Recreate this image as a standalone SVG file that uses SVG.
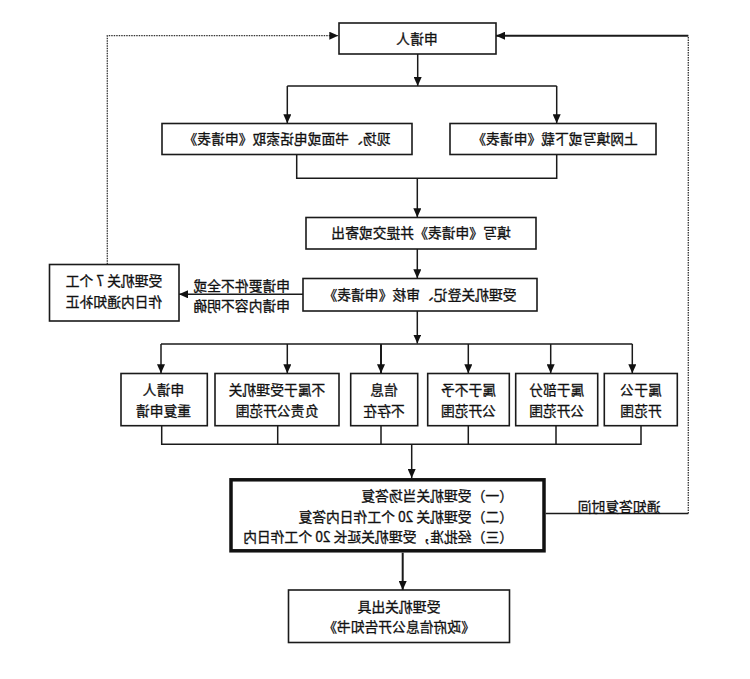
<svg xmlns="http://www.w3.org/2000/svg" width="750" height="679" viewBox="0 0 750 679">
<style>
.box{fill:#fff;stroke:#1a1a1a;stroke-width:1.6}
.thick{fill:#fff;stroke:#111;stroke-width:3.5}
.ln{fill:none;stroke:#1a1a1a;stroke-width:1.5}
.dot{fill:none;stroke:#333;stroke-width:1.3;stroke-dasharray:1.5 1}
text{font-family:"Noto Sans CJK SC","Noto Sans",sans-serif;font-size:13.8px;fill:#111;stroke:#111;stroke-width:0.3;text-anchor:middle}
text.l{text-anchor:start}
</style>
<defs>
<marker id="ah" markerUnits="userSpaceOnUse" viewBox="0 0 9 8" markerWidth="9" markerHeight="8" refX="9" refY="4" orient="auto">
<path d="M0,0 L9,4 L0,8 z" fill="#111"/>
</marker>
</defs>
<rect width="750" height="679" fill="#fff"/>
<g id="connectors">
<path class="ln" d="M417.7,54 V86" marker-end="url(#ah)"/>
<path class="ln" d="M287.3,86 H556.7"/>
<path class="ln" d="M287.3,86 V123.3" marker-end="url(#ah)"/>
<path class="ln" d="M556.7,86 V123.3" marker-end="url(#ah)"/>
<path class="ln" d="M296.7,154.3 V178.3 H556.7 V154.3"/>
<path class="ln" d="M417.3,178.3 V217.3" marker-end="url(#ah)"/>
<path class="ln" d="M417.3,249 V278.3" marker-end="url(#ah)"/>
<path class="ln" d="M303,294.3 H179" marker-end="url(#ah)"/>
<path class="ln" d="M417.3,311 V343.5" marker-end="url(#ah)"/>
<path class="ln" d="M161,344 H632.3"/>
<path class="ln" d="M161,344 V373.3" marker-end="url(#ah)"/>
<path class="ln" d="M287.3,344 V373.3" marker-end="url(#ah)"/>
<path class="ln" d="M381,344 V373.3" marker-end="url(#ah)" style="stroke-width:2"/>
<path class="ln" d="M468.3,344 V373.3" marker-end="url(#ah)"/>
<path class="ln" d="M550.7,344 V373.3" marker-end="url(#ah)"/>
<path class="ln" d="M632.3,344 V373.3" marker-end="url(#ah)"/>
<path class="ln" d="M161.7,425.7 V444.3 H641 V425.7 M277.7,425.7 V444.3 M381,425.7 V444.3 M468.3,425.7 V444.3 M556,425.7 V444.3"/>
<path class="ln" d="M411.7,444.3 V478" marker-end="url(#ah)"/>
<path class="ln" d="M402.7,552.7 V590" marker-end="url(#ah)" style="stroke-width:2"/>
<path class="ln" d="M545.7,513.5 H688.3"/>
<path class="dot" d="M688.3,513.5 V35.7"/>
<path class="ln" d="M688.3,35.7 H496" marker-end="url(#ah)" style="stroke-width:2"/>
<path class="dot" d="M107.3,264.3 V35.7 H338.3" marker-end="url(#ah)"/>
<text transform="scale(-1 1)" x="-241.7" y="291">申请要件不全或</text>
<text transform="scale(-1 1)" x="-241.7" y="311">申请内容不明确</text>
<text transform="scale(-1 1)" x="-619" y="512">通知答复时间</text>
</g>
<g id="n-applicant">
<rect class="box" x="339" y="23" width="157" height="31"/>
<text transform="scale(-1 1)" x="-417" y="43.5">申请人</text>
</g>
<g id="n-onsite">
<rect class="box" x="162" y="123.5" width="250" height="31"/>
<text transform="scale(-1 1)" x="-287" y="144">现场、书面或电话索取《申请表》</text>
</g>
<g id="n-online">
<rect class="box" x="450" y="123.5" width="206" height="31"/>
<text transform="scale(-1 1)" x="-555" y="144">上网填写或下载《申请表》</text>
</g>
<g id="n-fill">
<rect class="box" x="306" y="217.5" width="230" height="31.5"/>
<text transform="scale(-1 1)" x="-421" y="238">填写《申请表》并提交或寄出</text>
</g>
<g id="n-register">
<rect class="box" x="303" y="278.5" width="234" height="32.5"/>
<text transform="scale(-1 1)" x="-420" y="299.5">受理机关登记、审核《申请表》</text>
</g>
<g id="n-correct">
<rect class="box" x="49.5" y="264.5" width="129.5" height="56.5"/>
<text transform="scale(-1 1)" x="-114" y="286">受理机关 7 个工</text>
<text transform="scale(-1 1)" x="-114" y="306.5">作日内通知补正</text>
</g>
<g id="n-repeat">
<rect class="box" x="121" y="373.5" width="86.3" height="52.2"/>
<text transform="scale(-1 1)" x="-163.5" y="395">申请人</text>
<text transform="scale(-1 1)" x="-163.5" y="416">重复申请</text>
</g>
<g id="n-notresp">
<rect class="box" x="215" y="373.5" width="124" height="52.2"/>
<text transform="scale(-1 1)" x="-277" y="395">不属于受理机关</text>
<text transform="scale(-1 1)" x="-277" y="416">负责公开范围</text>
</g>
<g id="n-notexist">
<rect class="box" x="350.7" y="373.5" width="67" height="52.2"/>
<text transform="scale(-1 1)" x="-384" y="395">信息</text>
<text transform="scale(-1 1)" x="-384" y="416">不存在</text>
</g>
<g id="n-nodisclose">
<rect class="box" x="427.7" y="373.5" width="81.6" height="52.2"/>
<text transform="scale(-1 1)" x="-468.5" y="395">属于不予</text>
<text transform="scale(-1 1)" x="-468.5" y="416">公开范围</text>
</g>
<g id="n-partial">
<rect class="box" x="515.7" y="373.5" width="82" height="52.2"/>
<text transform="scale(-1 1)" x="-556.7" y="395">属于部分</text>
<text transform="scale(-1 1)" x="-556.7" y="416">公开范围</text>
</g>
<g id="n-public">
<rect class="box" x="604.3" y="373.5" width="73" height="52.2"/>
<text transform="scale(-1 1)" x="-641" y="395">属于公</text>
<text transform="scale(-1 1)" x="-641" y="416">开范围</text>
</g>
<g id="n-reply">
<rect class="thick" x="231" y="479.8" width="313" height="71"/>
<text class="l" transform="scale(-1 1)" x="-513" y="501">（一）受理机关当场答复</text>
<text class="l" transform="scale(-1 1)" x="-513" y="521.5">（二）受理机关 20 个工作日内答复</text>
<text class="l" transform="scale(-1 1)" x="-513" y="542">（三）经批准，受理机关延长 20 个工作日内</text>
</g>
<g id="n-notice">
<rect class="box" x="288.5" y="590" width="221" height="52.5"/>
<text transform="scale(-1 1)" x="-399" y="612">受理机关出具</text>
<text transform="scale(-1 1)" x="-399" y="632">《政府信息公开告知书》</text>
</g>
</svg>
